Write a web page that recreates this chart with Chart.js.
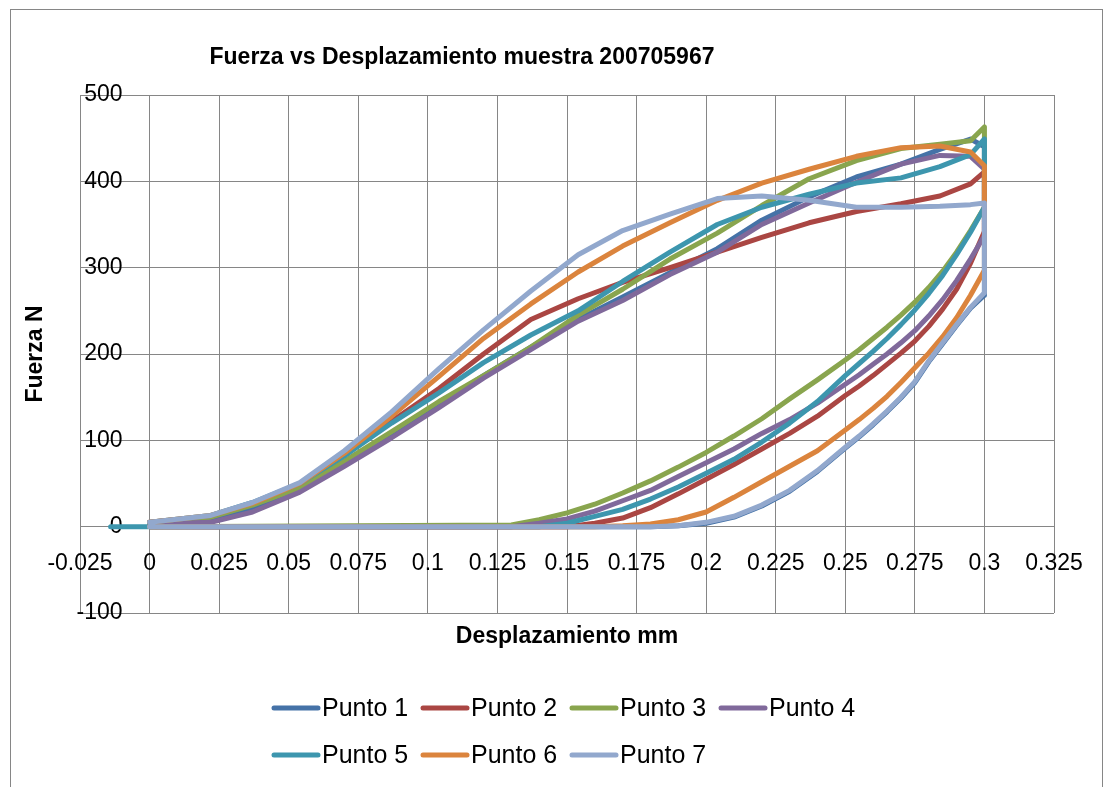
<!DOCTYPE html>
<html>
<head>
<meta charset="utf-8">
<script src="https://cdn.jsdelivr.net/npm/chart.js@4.4.1/dist/chart.umd.min.js"></script>
<style>
  body { margin: 0; background: #fff; }
  canvas { display: block; }
</style>
</head>
<body>
<canvas id="myChart" width="1113" height="787"></canvas>
<script>
// desplazamiento (mm) de la carga, compartido por las 7 series
var xLoad = [0, 0.022, 0.037, 0.054, 0.07, 0.087, 0.104, 0.12, 0.137, 0.154, 0.17, 0.187, 0.204, 0.22, 0.237, 0.254, 0.27, 0.284, 0.295, 0.3];
// desplazamiento de la descarga
var xUnload = [0.3, 0.295, 0.29, 0.285, 0.28, 0.275, 0.27, 0.265, 0.26, 0.255, 0.25, 0.24, 0.23, 0.22, 0.21, 0.2, 0.19, 0.18, 0.17, 0.16, 0.15, 0.14, 0.13];
// punto final del regreso sobre el eje
var xReturn = [0, 0, 0, 0, -0.014, 0, 0];

var labels = ['Punto 1', 'Punto 2', 'Punto 3', 'Punto 4', 'Punto 5', 'Punto 6', 'Punto 7'];
var colors = ['#4572A7', '#AA4643', '#89A54E', '#80699B', '#3D96AE', '#DB843D', '#92A8CD'];

// fuerza (N) en la carga
var load1 = [4, 7, 20, 42, 72, 106, 141, 175, 208, 240, 266, 294, 322, 355, 382, 405, 420, 437, 449, 440];
var load2 = [5, 12, 27, 48, 83, 122, 160, 200, 240, 264, 283, 300, 318, 335, 352, 365, 374, 383, 397, 411];
var load3 = [4, 11, 25, 45, 76, 110, 145, 175, 208, 245, 275, 310, 340, 372, 403, 424, 438, 443, 447, 463];
var load4 = [3, 5, 17, 40, 70, 103, 138, 172, 205, 238, 262, 292, 318, 350, 375, 399, 420, 430, 429, 414];
var load5 = [5, 13, 28, 50, 82, 120, 155, 190, 222, 250, 284, 318, 350, 370, 385, 398, 404, 417, 431, 449];
var load6 = [5, 13, 27, 50, 85, 128, 174, 218, 258, 295, 325, 352, 378, 398, 414, 429, 439, 441, 434, 418];
var load7 = [5, 13, 28, 51, 88, 133, 183, 228, 273, 315, 343, 362, 380, 383, 378, 370, 370, 371, 373, 375];

// fuerza (N) en la descarga
var unload1 = [268, 253, 233, 212, 191, 167, 149, 133, 118, 104, 91, 64, 41, 24, 11, 4, 1, 0, 0, 0, 0, 0, 0];
var unload2 = [342, 305, 275, 252, 232, 215, 201, 188, 175, 163, 152, 128, 108, 90, 72, 55, 38, 22, 10, 4, 0, 0, 0];
var unload3 = [370, 343, 318, 296, 277, 260, 245, 231, 218, 205, 193, 170, 148, 125, 105, 86, 69, 53, 39, 26, 16, 8, 2];
var unload4 = [337, 310, 285, 263, 244, 227, 213, 200, 188, 176, 165, 143, 124, 108, 90, 74, 58, 42, 30, 18, 9, 4, 0];
var unload5 = [370, 341, 315, 291, 270, 251, 234, 218, 203, 189, 175, 145, 120, 98, 78, 62, 46, 32, 20, 12, 4, 0, 0];
var unload6 = [297, 268, 242, 220, 201, 184, 167, 151, 137, 124, 112, 88, 70, 52, 34, 17, 8, 3, 1, 0, 0, 0, 0];
var unload7 = [271, 254, 234, 213, 192, 168, 150, 134, 119, 105, 92, 65, 42, 25, 12, 5, 1, 0, 0, 0, 0, 0, 0];

var loads = [load1, load2, load3, load4, load5, load6, load7];
var unloads = [unload1, unload2, unload3, unload4, unload5, unload6, unload7];

var font = '"Liberation Sans", Arial, sans-serif';

function buildPoints(i) {
  var pts = xLoad.map(function (x, j) { return { x: x, y: loads[i][j] }; });
  xUnload.forEach(function (x, j) { pts.push({ x: x, y: unloads[i][j] }); });
  pts.push({ x: xReturn[i], y: 0 });
  return pts;
}

var datasets = labels.map(function (label, i) {
  return {
    label: label,
    data: buildPoints(i),
    showLine: true,
    borderColor: colors[i],
    backgroundColor: colors[i],
    borderWidth: 5,
    borderJoinStyle: 'round',
    borderCapStyle: 'round',
    pointRadius: 0,
    tension: 0,
    order: 6 - i
  };
});

// textos y leyenda al estilo Excel
var textPlugin = {
  id: 'textos',
  afterDraw: function (chart) {
    var ctx = chart.ctx;
    var area = chart.chartArea;
    ctx.save();
    ctx.strokeStyle = '#868686';
    ctx.lineWidth = 1;
    ctx.strokeRect(10.5, 9.5, 1092, 800);

    ctx.fillStyle = '#000';
    ctx.textAlign = 'center';
    ctx.textBaseline = 'middle';
    ctx.font = 'bold 23px ' + font;
    ctx.fillText('Fuerza vs Desplazamiento muestra 200705967', 462, 58);
    ctx.fillText('Desplazamiento mm', (area.left + area.right) / 2, 637);
    ctx.save();
    ctx.translate(36, (area.top + area.bottom) / 2);
    ctx.rotate(-Math.PI / 2);
    ctx.fillText('Fuerza N', 0, 0);
    ctx.restore();

    // leyenda en rejilla
    ctx.font = '25px ' + font;
    ctx.textAlign = 'left';
    ctx.lineCap = 'round';
    ctx.lineWidth = 5;
    for (var i = 0; i < labels.length; i++) {
      var col = i % 4;
      var row = Math.floor(i / 4);
      var x0 = 274 + col * 149;
      var y0 = 708 + row * 47;
      ctx.strokeStyle = colors[i];
      ctx.beginPath();
      ctx.moveTo(x0, y0);
      ctx.lineTo(x0 + 44, y0);
      ctx.stroke();
      ctx.fillText(labels[i], x0 + 48, y0 + 1);
    }
    ctx.restore();
  }
};

function fmt(v) {
  return String(Number(v.toFixed(3)));
}

var ctx = document.getElementById('myChart');
var chart = new Chart(ctx, {
  type: 'scatter',
  data: { datasets: datasets },
  options: {
    responsive: false,
    animation: false,
    devicePixelRatio: 1,
    layout: { padding: { left: 80, right: 59, top: 95, bottom: 174 } },
    plugins: {
      legend: { display: false },
      title: { display: false },
      tooltip: { enabled: false }
    },
    scales: {
      x: {
        type: 'linear',
        position: { y: 0 },
        min: -0.025,
        max: 0.325,
        ticks: {
          stepSize: 0.025,
          padding: 23,
          color: '#000',
          font: { family: font, size: 23 },
          maxRotation: 0,
          autoSkip: false,
          callback: fmt
        },
        grid: { color: '#868686', lineWidth: 1, drawTicks: false },
        border: { color: '#868686', width: 1 }
      },
      y: {
        type: 'linear',
        // etiquetas a la izquierda del eje x = 0, como en Excel
        position: { x: -0.0097 },
        min: -100,
        max: 500,
        ticks: {
          stepSize: 100,
          color: '#000',
          font: { family: font, size: 23 },
          callback: fmt
        },
        grid: { color: '#868686', lineWidth: 1, drawTicks: false },
        border: { display: false }
      }
    }
  },
  plugins: [textPlugin]
});
</script>
</body>
</html>
